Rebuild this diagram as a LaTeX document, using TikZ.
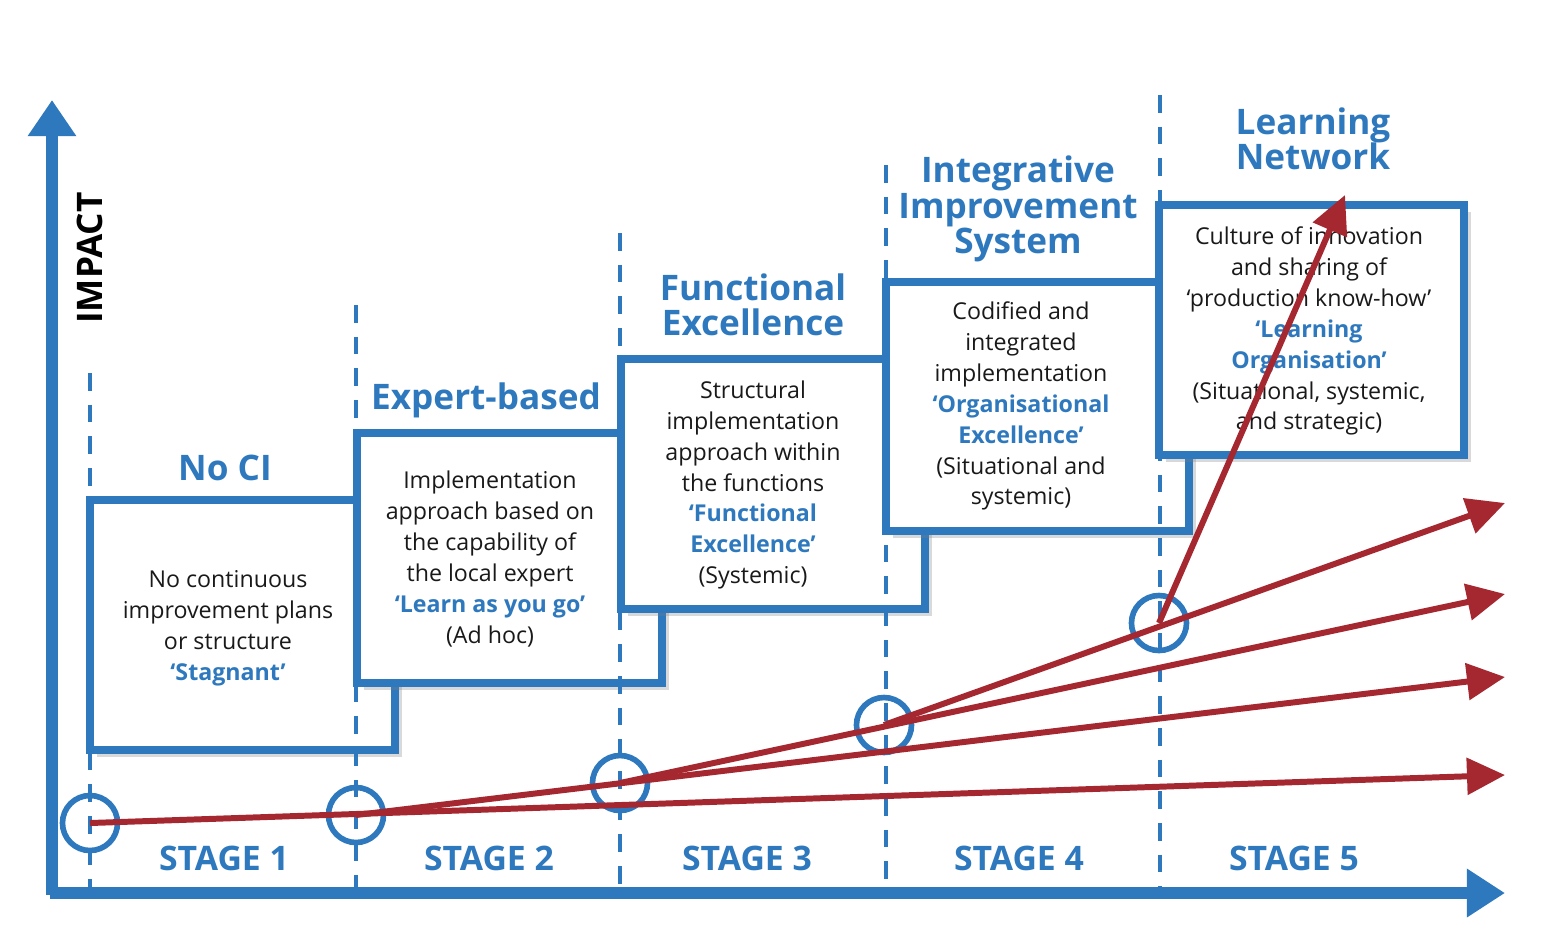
\documentclass[tikz,border=0pt]{standalone}
\usepackage{fontspec}
\setmainfont{Open Sans}
\usetikzlibrary{arrows.meta,shadows}
\definecolor{ciblue}{HTML}{2E78BE}
\definecolor{cired}{HTML}{A52830}
\newcommand{\hl}[1]{\textcolor{ciblue}{\bfseries #1}}

\begin{document}
\begin{tikzpicture}[x=0.01cm,y=-0.01cm,
    stagebox/.style={draw=ciblue, line width=2.2pt, fill=white, drop shadow={opacity=0.3,shadow xshift=2pt,shadow yshift=-2pt}},
    boxtext/.style={align=center, font=\fontsize{6.6}{8.8}\selectfont, text=black!90},
    title/.style={align=center, text=ciblue, font=\fontsize{10}{10}\selectfont\bfseries},
    stage/.style={text=ciblue, font=\fontsize{9.6}{10}\selectfont\bfseries},
    ring/.style={circle, draw=ciblue, line width=1.6pt, minimum size=0.55cm, inner sep=0pt},
    growpath/.style={cired, line width=1.7pt, -{Triangle[length=0.38cm,width=0.36cm]}}]
    \useasboundingbox (0,0) rectangle (1548,947);

    % Boxes (later ones on top)
    \draw[stagebox] (90,500) rectangle (395,750);
    \node[boxtext] (t1) at (228,628) {No continuous\\improvement plans\\or structure\\\hl{‘Stagnant’}};
    \draw[stagebox] (357,433) rectangle (662,683);
    \node[boxtext] (t2) at (490,559) {Implementation\\approach based on\\the capability of\\the local expert\\\hl{‘Learn as you go’}\\(Ad hoc)};
    \draw[stagebox] (621,359) rectangle (925,609);
    \node[boxtext] (t3) at (753,485) {Structural\\implementation\\approach within\\the functions\\\hl{‘Functional}\\\hl{Excellence’}\\(Systemic)};
    \draw[stagebox] (886,282) rectangle (1189,531);
    \node[boxtext] (t4) at (1021,406) {Codified and\\integrated\\implementation\\\hl{‘Organisational}\\\hl{Excellence’}\\(Situational and\\systemic)};
    \draw[stagebox] (1159,205) rectangle (1464,455);
    \node[boxtext] (t5) at (1309,331) {Culture of innovation\\and sharing of\\‘production know-how’\\\hl{‘Learning}\\\hl{Organisation’}\\(Situational, systemic,\\and strategic)};

    % Titles
    \node[title] (n1) at (225,468) {No CI};
    \node[title] (n2) at (486,400) {Expert-based};
    \node[title, font=\fontsize{10}{10.1}\selectfont\bfseries] (n3) at (753,305) {Functional\\Excellence};
    \node[title, font=\fontsize{10}{10.1}\selectfont\bfseries] (n4) at (1018,209) {Integrative\\Improvement\\System};
    \node[title, font=\fontsize{10}{10.1}\selectfont\bfseries] (n5) at (1313,139) {Learning\\Network};

    % Stage separators
    \foreach \x/\top in {90/373, 356/305, 620/233, 886/165, 1160/95}
        \draw[ciblue, line width=1.3pt, dash pattern=on 5pt off 4pt] (\x,\top) -- (\x,890);

    % Axes
    \draw[ciblue, line width=3.2pt, -{Triangle[length=0.36cm,width=0.46cm]}] (52,895) -- (52,100);
    \draw[ciblue, line width=3.2pt, -{Triangle[length=0.38cm,width=0.46cm]}] (50,893) -- (1505,893);
    \node[rotate=90, font=\fontsize{10}{10}\selectfont\bfseries] (imp) at (90,258) {IMPACT};

    % Stages
    \foreach \x/\n in {224/1, 489/2, 747/3, 1019/4, 1294/5}
        \node[stage] (s\n) at (\x,858) {STAGE \n};

    % Transition points
    \node[ring] (c1) at (90,823) {};
    \node[ring] (c2) at (356,815) {};
    \node[ring] (c3) at (620,783) {};
    \node[ring] (c4) at (884,725) {};
    \node[ring] (c5) at (1159,623) {};
    \coordinate (e1) at (1505,775);
    \coordinate (e2) at (1505,677);
    \coordinate (e3) at (1505,594);
    \coordinate (e4) at (1505,503);
    \coordinate (e5) at (1345,195);

    % Growth paths
    \draw[growpath] (c1.center) -- (e1);
    \draw[growpath] (c2.center) -- (e2);
    \draw[growpath] (c3.center) -- (e3);
    \draw[growpath] (c4.center) -- (e4);
    \draw[growpath] (c5.center) -- (e5);
\end{tikzpicture}
\end{document}
